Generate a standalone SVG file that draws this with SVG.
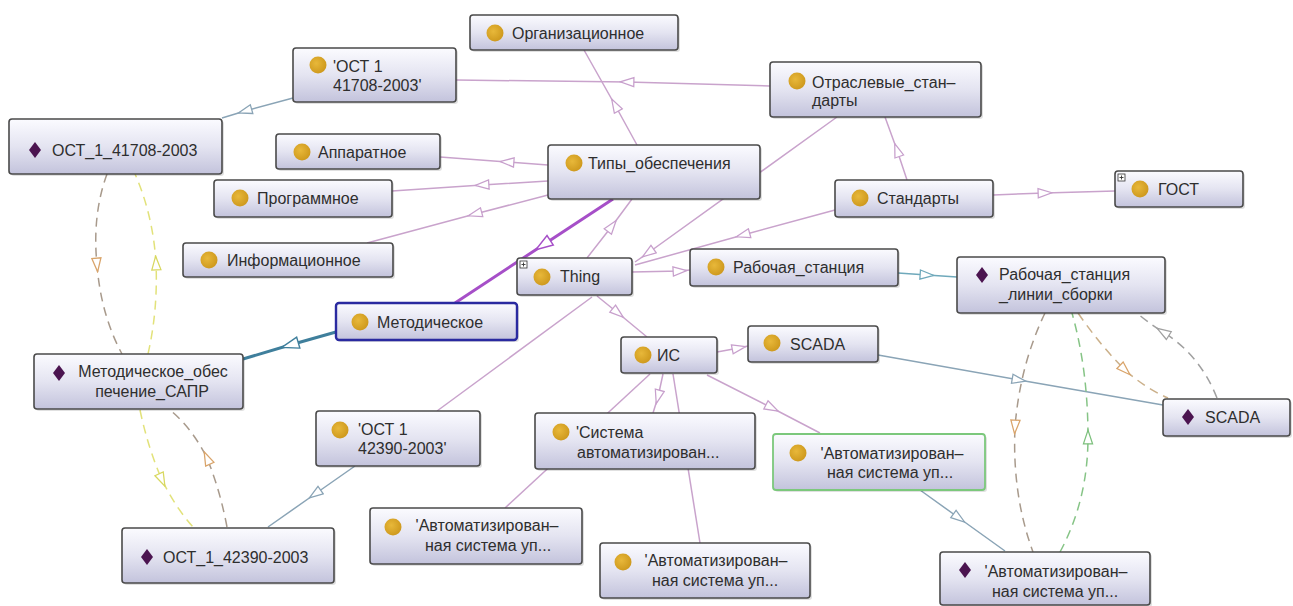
<svg xmlns="http://www.w3.org/2000/svg" width="1293" height="606" viewBox="0 0 1293 606">
<defs>
<linearGradient id="gbox" x1="0" y1="0" x2="0" y2="1">
<stop offset="0" stop-color="#fbfbff"/>
<stop offset="0.5" stop-color="#e4e4f1"/>
<stop offset="1" stop-color="#c3c3dc"/>
</linearGradient>
<radialGradient id="gdot" cx="0.4" cy="0.4" r="0.6">
<stop offset="0" stop-color="#e8b83a"/>
<stop offset="1" stop-color="#cf9a1e"/>
</radialGradient>
<marker id="mPink" viewBox="0 0 14 10" refX="7" refY="5" markerWidth="16" markerHeight="11.5" markerUnits="userSpaceOnUse" orient="auto"><path d="M1,1 L13,5 L1,9 Z" fill="#fff" stroke="#c79fcc" stroke-width="1.1"/></marker>
<marker id="mBlue" viewBox="0 0 14 10" refX="7" refY="5" markerWidth="16" markerHeight="11.5" markerUnits="userSpaceOnUse" orient="auto"><path d="M1,1 L13,5 L1,9 Z" fill="#fff" stroke="#8aa4b6" stroke-width="1.1"/></marker>
<marker id="mTeal" viewBox="0 0 14 10" refX="7" refY="5" markerWidth="16" markerHeight="11.5" markerUnits="userSpaceOnUse" orient="auto"><path d="M1,1 L13,5 L1,9 Z" fill="#fff" stroke="#6fa9bb" stroke-width="1.1"/></marker>
<marker id="mPurpleBig" viewBox="0 0 14 10" refX="7" refY="5" markerWidth="20" markerHeight="15" markerUnits="userSpaceOnUse" orient="auto"><path d="M1,1 L13,5 L1,9 Z" fill="#fff" stroke="#a64fc8" stroke-width="1"/></marker>
<marker id="mTealBig" viewBox="0 0 14 10" refX="7" refY="5" markerWidth="20" markerHeight="15" markerUnits="userSpaceOnUse" orient="auto"><path d="M1,1 L13,5 L1,9 Z" fill="#fff" stroke="#3f7f9c" stroke-width="1"/></marker>
<marker id="mOrange" viewBox="0 0 14 10" refX="7" refY="5" markerWidth="16" markerHeight="11.5" markerUnits="userSpaceOnUse" orient="auto"><path d="M1,1 L13,5 L1,9 Z" fill="#fff" stroke="#d9a46a" stroke-width="1.1"/></marker>
<marker id="mYellow" viewBox="0 0 14 10" refX="7" refY="5" markerWidth="16" markerHeight="11.5" markerUnits="userSpaceOnUse" orient="auto"><path d="M1,1 L13,5 L1,9 Z" fill="#fff" stroke="#d8d860" stroke-width="1.1"/></marker>
<marker id="mGreen" viewBox="0 0 14 10" refX="7" refY="5" markerWidth="16" markerHeight="11.5" markerUnits="userSpaceOnUse" orient="auto"><path d="M1,1 L13,5 L1,9 Z" fill="#fff" stroke="#7cc07c" stroke-width="1.1"/></marker>
<marker id="mGray" viewBox="0 0 14 10" refX="7" refY="5" markerWidth="16" markerHeight="11.5" markerUnits="userSpaceOnUse" orient="auto"><path d="M1,1 L13,5 L1,9 Z" fill="#fff" stroke="#a0a0a0" stroke-width="1.1"/></marker>
</defs>
<style>
.box{fill:url(#gbox);stroke:#4a4a4a;stroke-width:1.6}
.sh{fill:#000;opacity:0.12}
.sel{stroke:#2a2aa0;stroke-width:2.4}
.grn{stroke:#7cc87c;stroke-width:1.8}
.dot{fill:url(#gdot)}
.dia{fill:#4b1450}
.t{font-family:"Liberation Sans",Arial,sans-serif;font-size:16px;fill:#2e2e2e}
.c{text-anchor:middle}
.e{fill:none;stroke-width:1.5}
.pk{stroke:#c9a3cc;marker-mid:url(#mPink)}
.pl{stroke:#c9a3cc}
.bl{stroke:#8aa4b6;marker-mid:url(#mBlue)}
.tl{stroke:#6fa9bb;marker-mid:url(#mTeal)}
.thp{stroke:#a64fc8;stroke-width:3;marker-mid:url(#mPurpleBig)}
.tht{stroke:#3f7f9c;stroke-width:3;marker-mid:url(#mTealBig)}
.d{fill:none;stroke-width:1.5;stroke-dasharray:9 6}
.dor{stroke:#a89a8c;marker-mid:url(#mOrange)}
.dye{stroke:#e2e27a;marker-mid:url(#mYellow)}
.dgr{stroke:#86c486;marker-mid:url(#mGreen)}
.dtn{stroke:#cbb08a;marker-mid:url(#mOrange)}
.dgy{stroke:#a0a0a0;marker-mid:url(#mGray)}
.pi{fill:#fff;stroke:#333;stroke-width:0.8}
</style>
<rect width="1293" height="606" fill="#fff"/>
<g id="connectors">
<path class="e pk" d="M770,86 L627,82 L456,80"/>
<path class="e pk" d="M637,145 L615,105 L584,50"/>
<path class="e pk" d="M548,165 L507,162 L440,157"/>
<path class="e pk" d="M548,181 L482,185 L392,191"/>
<path class="e pk" d="M548,195 L475,214 L367,243"/>
<path class="e thp" d="M613,199 L543,245 L455,303"/>
<path class="e pk" d="M587,258 L612,226 L632,199"/>
<path class="e pk" d="M837,117 L648,253 L635,262"/>
<path class="e pk" d="M835,210 L743,235 L635,265"/>
<path class="e pk" d="M632,272 L680,271 L690,270"/>
<path class="e pk" d="M993,195 L1045,193 L1115,191"/>
<path class="e pk" d="M907,180 L897,150 L885,117"/>
<path class="e tl" d="M898,273 L927,275 L957,277"/>
<path class="e pk" d="M597,296 L618,313 L647,337"/>
<path class="e pl" d="M592,297 L437,411"/>
<path class="e bl" d="M293,98 L245,111 L222,118"/>
<path class="e bl" d="M355,466 L315,494 L268,527"/>
<path class="e pk" d="M717,352 L739,348 L748,346"/>
<path class="e bl" d="M878,355 L1019,380 L1163,405"/>
<path class="e pl" d="M650,374 L505,508"/>
<path class="e pk" d="M663,374 L658,397 L653,413"/>
<path class="e pl" d="M673,374 L700,543"/>
<path class="e pk" d="M707,375 L772,408 L820,433"/>
<path class="e bl" d="M920,490 L959,518 L1005,551"/>
<path class="e tht" d="M336,332 L290,345 L243,359"/>
<path class="d dor" d="M107,174 Q92,215 97,265 Q101,315 122,354"/>
<path class="d dye" d="M148,354 Q158,310 156,263 Q153,215 135,174"/>
<path class="d dye" d="M140,410 Q148,448 162,480 Q176,508 193,527"/>
<path class="d dor" d="M227,527 Q220,490 207,458 Q192,428 170,410"/>
<path class="d dor" d="M1045,313 Q1020,365 1015,427 Q1012,495 1033,552"/>
<path class="d dgr" d="M1060,552 Q1088,500 1088,437 Q1088,370 1072,313"/>
<path class="d dtn" d="M1078,313 Q1100,345 1125,370 Q1145,388 1168,398"/>
<path class="d dgy" d="M1217,398 Q1200,355 1163,332 Q1147,322 1137,313"/>
</g>
<g id="n-org"><rect class="sh" x="472" y="17" width="208" height="35" rx="3"/><rect class="box" x="470" y="15" width="208" height="35" rx="3"/><circle class="dot" cx="495" cy="33" r="8.5"/><text class="t" x="512" y="39">Организационное</text></g>
<g id="n-ost41708c"><rect class="sh" x="295" y="50" width="163" height="54" rx="3"/><rect class="box" x="293" y="48" width="163" height="54" rx="3"/><circle class="dot" cx="318" cy="65" r="8.5"/><text class="t" x="333" y="72">'ОСТ 1</text><text class="t" x="333" y="91">41708-2003'</text></g>
<g id="n-otrasl"><rect class="sh" x="772" y="64" width="211" height="55" rx="3"/><rect class="box" x="770" y="62" width="211" height="55" rx="3"/><circle class="dot" cx="797" cy="81" r="8.5"/><text class="t" x="812" y="88">Отраслевые_стан–</text><text class="t" x="812" y="106">дарты</text></g>
<g id="n-ost41708i"><rect class="sh" x="11" y="121" width="213" height="55" rx="3"/><rect class="box" x="9" y="119" width="213" height="55" rx="3"/><path class="dia" d="M35,142 L41,150 L35,158 L29,150 Z"/><text class="t" x="52" y="156">ОСТ_1_41708-2003</text></g>
<g id="n-appar"><rect class="sh" x="278" y="136" width="164" height="35" rx="3"/><rect class="box" x="276" y="134" width="164" height="35" rx="3"/><circle class="dot" cx="302" cy="152" r="8.5"/><text class="t" x="318" y="158">Аппаратное</text></g>
<g id="n-progr"><rect class="sh" x="216" y="182" width="178" height="37" rx="3"/><rect class="box" x="214" y="180" width="178" height="37" rx="3"/><circle class="dot" cx="240" cy="198" r="8.5"/><text class="t" x="257" y="204">Программное</text></g>
<g id="n-inform"><rect class="sh" x="185" y="245" width="210" height="34" rx="3"/><rect class="box" x="183" y="243" width="210" height="34" rx="3"/><circle class="dot" cx="209" cy="260" r="8.5"/><text class="t" x="227" y="266">Информационное</text></g>
<g id="n-metod"><rect class="sh" x="338" y="305" width="181" height="37" rx="3"/><rect class="box sel" x="336" y="303" width="181" height="37" rx="3"/><circle class="dot" cx="360" cy="322" r="8.5"/><text class="t" x="377" y="328">Методическое</text></g>
<g id="n-tipy"><rect class="sh" x="550" y="147" width="212" height="54" rx="3"/><rect class="box" x="548" y="145" width="212" height="54" rx="3"/><circle class="dot" cx="574" cy="163" r="8.5"/><text class="t" x="588" y="169">Типы_обеспечения</text></g>
<g id="n-thing"><rect class="sh" x="519" y="260" width="115" height="37" rx="3"/><rect class="box" x="517" y="258" width="115" height="37" rx="3"/><rect class="pi" x="520" y="261" width="7" height="7"/><path d="M521.5,264.5 H525.5 M523.5,262.5 V266.5" stroke="#333" stroke-width="0.9"/><circle class="dot" cx="542" cy="277" r="8.5"/><text class="t" x="560" y="282">Thing</text></g>
<g id="n-rabst"><rect class="sh" x="692" y="251" width="208" height="37" rx="3"/><rect class="box" x="690" y="249" width="208" height="37" rx="3"/><circle class="dot" cx="716" cy="267" r="8.5"/><text class="t" x="733" y="273">Рабочая_станция</text></g>
<g id="n-stand"><rect class="sh" x="837" y="182" width="158" height="37" rx="3"/><rect class="box" x="835" y="180" width="158" height="37" rx="3"/><circle class="dot" cx="860" cy="198" r="8.5"/><text class="t" x="877" y="204">Стандарты</text></g>
<g id="n-gost"><rect class="sh" x="1117" y="173" width="128" height="36" rx="3"/><rect class="box" x="1115" y="171" width="128" height="36" rx="3"/><rect class="pi" x="1118" y="174" width="7" height="7"/><path d="M1119.5,177.5 H1123.5 M1121.5,175.5 V179.5" stroke="#333" stroke-width="0.9"/><circle class="dot" cx="1140" cy="189" r="8.5"/><text class="t" x="1158" y="195">ГОСТ</text></g>
<g id="n-rabst-lin"><rect class="sh" x="959" y="259" width="208" height="56" rx="3"/><rect class="box" x="957" y="257" width="208" height="56" rx="3"/><path class="dia" d="M982,267 L988,275 L982,283 L976,275 Z"/><text class="t" x="999" y="280">Рабочая_станция</text><text class="t" x="999" y="300">_линии_сборки</text></g>
<g id="n-is"><rect class="sh" x="623" y="339" width="96" height="36" rx="3"/><rect class="box" x="621" y="337" width="96" height="36" rx="3"/><circle class="dot" cx="643" cy="355" r="8.5"/><text class="t" x="657" y="361">ИС</text></g>
<g id="n-scada-c"><rect class="sh" x="750" y="328" width="130" height="36" rx="3"/><rect class="box" x="748" y="326" width="130" height="36" rx="3"/><circle class="dot" cx="772" cy="343" r="8.5"/><text class="t" x="790" y="350">SCADA</text></g>
<g id="n-metod-sapr"><rect class="sh" x="36" y="356" width="209" height="55" rx="3"/><rect class="box" x="34" y="354" width="209" height="55" rx="3"/><path class="dia" d="M59,365 L65,373 L59,381 L53,373 Z"/><text class="t c" x="153" y="377">Методическое_обес</text><text class="t c" x="152" y="397">печение_САПР</text></g>
<g id="n-ost42390c"><rect class="sh" x="318" y="413" width="164" height="55" rx="3"/><rect class="box" x="316" y="411" width="164" height="55" rx="3"/><circle class="dot" cx="340" cy="430" r="8.5"/><text class="t" x="358" y="435">'ОСТ 1</text><text class="t" x="358" y="454">42390-2003'</text></g>
<g id="n-sistema"><rect class="sh" x="537" y="415" width="220" height="56" rx="3"/><rect class="box" x="535" y="413" width="220" height="56" rx="3"/><circle class="dot" cx="561" cy="432" r="8.5"/><text class="t" x="576" y="438">'Система</text><text class="t" x="577" y="458">автоматизирован...</text></g>
<g id="n-avt-green"><rect class="sh" x="775" y="436" width="212" height="56" rx="3"/><rect class="box grn" x="773" y="434" width="212" height="56" rx="3"/><circle class="dot" cx="798" cy="453" r="8.5"/><text class="t c" x="892" y="459">'Автоматизирован–</text><text class="t c" x="890" y="478">ная система уп...</text></g>
<g id="n-scada-i"><rect class="sh" x="1165" y="401" width="127" height="37" rx="3"/><rect class="box" x="1163" y="399" width="127" height="37" rx="3"/><path class="dia" d="M1188,409 L1194,417 L1188,425 L1182,417 Z"/><text class="t" x="1205" y="423">SCADA</text></g>
<g id="n-ost42390i"><rect class="sh" x="124" y="530" width="212" height="55" rx="3"/><rect class="box" x="122" y="528" width="212" height="55" rx="3"/><path class="dia" d="M147,549 L153,557 L147,565 L141,557 Z"/><text class="t" x="163" y="563">ОСТ_1_42390-2003</text></g>
<g id="n-avt-left"><rect class="sh" x="372" y="510" width="212" height="56" rx="3"/><rect class="box" x="370" y="508" width="212" height="56" rx="3"/><circle class="dot" cx="393" cy="527" r="8.5"/><text class="t c" x="487" y="531">'Автоматизирован–</text><text class="t c" x="488" y="551">ная система уп...</text></g>
<g id="n-avt-mid"><rect class="sh" x="602" y="545" width="210" height="55" rx="3"/><rect class="box" x="600" y="543" width="210" height="55" rx="3"/><circle class="dot" cx="623" cy="562" r="8.5"/><text class="t c" x="716" y="566">'Автоматизирован–</text><text class="t c" x="715" y="586">ная система уп...</text></g>
<g id="n-avt-ind"><rect class="sh" x="942" y="554" width="210" height="53" rx="3"/><rect class="box" x="940" y="552" width="210" height="53" rx="3"/><path class="dia" d="M965,562 L971,570 L965,578 L959,570 Z"/><text class="t c" x="1056" y="577">'Автоматизирован–</text><text class="t c" x="1055" y="597">ная система уп...</text></g>
</svg>
